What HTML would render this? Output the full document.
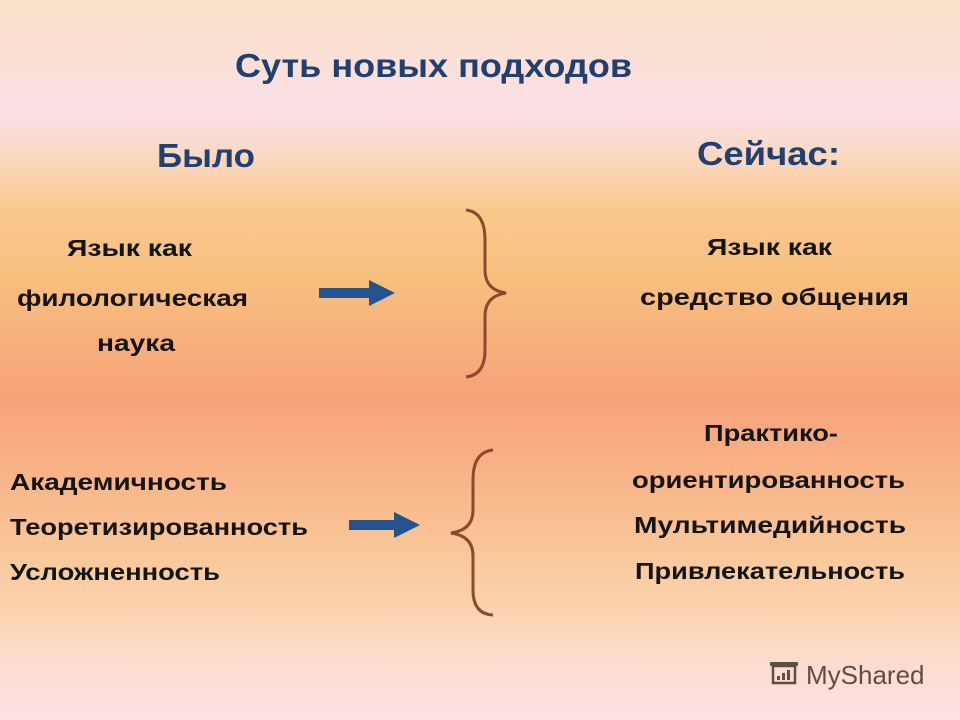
<!DOCTYPE html>
<html><head><meta charset="utf-8"><style>
html,body{margin:0;padding:0}
body{width:960px;height:720px;overflow:hidden;background:linear-gradient(to bottom,#fbe2cc 0px,#fbe0d6 60px,#fbe0e6 105px,#fad9c8 150px,#f8c98c 210px,#f8bf7e 280px,#f7b07c 340px,#f7a27a 400px,#f8b084 460px,#f9c496 540px,#fad2aa 600px,#fcdccc 660px,#fde2e6 720px)}
svg{display:block}
text{font-family:"Liberation Sans",sans-serif;font-weight:bold}
</style></head><body>
<svg width="960" height="720" viewBox="0 0 960 720">
<g fill="#213f70">
<text x="235" y="77" font-size="33" textLength="397" lengthAdjust="spacingAndGlyphs">Суть новых подходов</text>
<text x="157" y="167" font-size="33" textLength="98" lengthAdjust="spacingAndGlyphs">Было</text>
<text x="697" y="165" font-size="33" textLength="143" lengthAdjust="spacingAndGlyphs">Сейчас:</text>
</g>
<g fill="#141414" font-size="23">
<text x="67" y="256" textLength="125" lengthAdjust="spacingAndGlyphs">Язык как</text>
<text x="17" y="306" textLength="231" lengthAdjust="spacingAndGlyphs">филологическая</text>
<text x="97" y="351" textLength="78" lengthAdjust="spacingAndGlyphs">наука</text>
<text x="10" y="490" textLength="217" lengthAdjust="spacingAndGlyphs">Академичность</text>
<text x="10" y="535" textLength="298" lengthAdjust="spacingAndGlyphs">Теоретизированность</text>
<text x="10" y="580" textLength="210" lengthAdjust="spacingAndGlyphs">Усложненность</text>
<text x="707" y="255" textLength="125" lengthAdjust="spacingAndGlyphs">Язык как</text>
<text x="640" y="305" textLength="269" lengthAdjust="spacingAndGlyphs">средство общения</text>
<text x="704" y="441" textLength="134" lengthAdjust="spacingAndGlyphs">Практико-</text>
<text x="632" y="488" textLength="273" lengthAdjust="spacingAndGlyphs">ориентированность</text>
<text x="634" y="533" textLength="272" lengthAdjust="spacingAndGlyphs">Мультимедийность</text>
<text x="635" y="579" textLength="270" lengthAdjust="spacingAndGlyphs">Привлекательность</text>
</g>
<g fill="#24548f">
<polygon points="319,288 369,288 369,280 395,293 369,306 369,298 319,298"/>
<polygon points="349,520 394,520 394,512 420,525 394,538 394,530 349,530"/>
</g>
<g fill="none" stroke="#8b4a30" stroke-width="3">
<path d="M466,210 Q485,212 485,240 L485,270 Q485,290 506,293 Q485,296 485,316 L485,350 Q485,375 466,377"/>
<path d="M493,450 Q473,452 473,480 L473,510 Q473,530 451,533 Q473,536 473,556 L473,590 Q473,614 493,615"/>
</g>
<g fill="#5a5048">
<rect x="770" y="662" width="28" height="4" rx="1"/>
<rect x="773" y="666" width="22" height="17" fill="none" stroke="#5a5048" stroke-width="2.5"/>
<rect x="777" y="676" width="3" height="4"/><rect x="782" y="673" width="3" height="7"/><rect x="787" y="670" width="3" height="10"/>
<text x="806" y="684" font-size="26" style="font-weight:normal">MyShared</text>
</g>
</svg>
</body></html>
